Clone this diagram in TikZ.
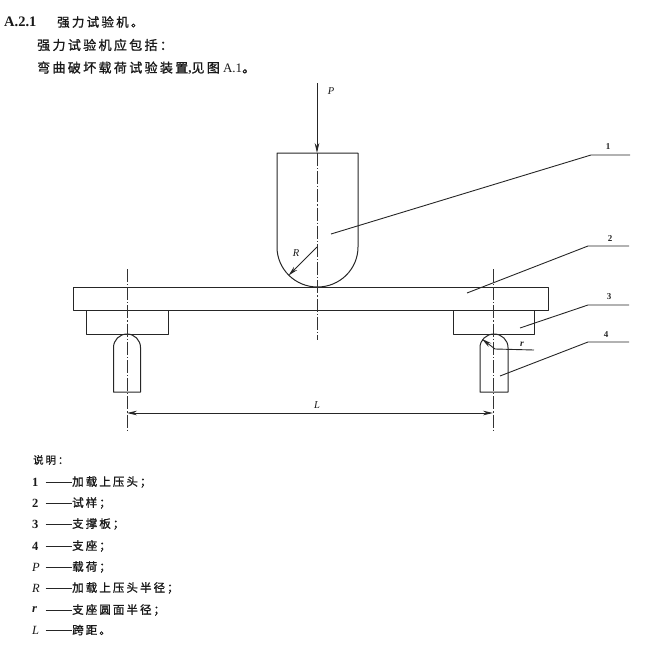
\documentclass[tikz,border=0pt]{standalone}
\usepackage{fontspec}
\usetikzlibrary{arrows.meta}
\setmainfont{Liberation Serif}
\newfontfamily\cjk[LetterSpace=18,FakeBold=1.2]{Noto Sans CJK SC}
\newcommand{\zh}[1]{{\cjk #1}}
\tikzset{
  x=1pt,y=-1pt,
  part/.style={draw=black!85,line width=1pt,line join=round},
  axisline/.style={draw=black!80,line width=0.9pt,dash pattern=on 13pt off 2pt on 1.2pt off 2pt},
  lead/.style={draw=black!85,line width=0.9pt},
  tip/.style={-{Stealth[length=10pt,width=4.6pt]}},
  para/.style={anchor=west,inner sep=0pt,font=\fontsize{13}{14}\selectfont,text=black!90},
  leg/.style={anchor=west,inner sep=0pt,font=\fontsize{11.5}{13}\selectfont,text=black!90},
  num/.style={inner sep=0pt,font=\fontsize{9}{11}\bfseries\selectfont,text=black!85},
  sym/.style={inner sep=0pt,font=\fontsize{10.5}{12}\itshape\selectfont,text=black!90}
}
\begin{document}
\begin{tikzpicture}
\useasboundingbox (0,0) rectangle (654,649);
% paragraph text
\node[para,font=\fontsize{14.5}{15}\selectfont] (h1) at (4,22) {\textbf{A.2.1}};
\node[para,font=\fontsize{12.5}{14}\selectfont] (h1b) at (57,22) {\zh{强力试验机。}};
\node[para] (h2) at (37,45) {\zh{强力试验机应包括：}};
\node[para] (h3) at (37,68) {\zh{弯曲破坏载荷试验装置}\textbf{,}\zh{见图} A.1\zh{。}};
% named points
\coordinate (ptop) at (317,83);
\coordinate (ihead) at (317,153);
\coordinate (ibot) at (317,340);
\coordinate (rc) at (317,247);
\coordinate (rt) at (288.5,275.5);
\coordinate (la) at (127,269);
\coordinate (lb) at (127,431);
\coordinate (ra) at (493,269);
\coordinate (rb) at (493,431);
\coordinate (lL) at (127,413);
\coordinate (rL) at (493,413);
\coordinate (sc) at (495,349);
\coordinate (st) at (482,339);
\coordinate (se) at (534,350);
% parts
\draw[part] (277,153) -- (358,153) -- (358,247) arc[start angle=0,end angle=180,radius=40.5,y radius=40] -- cycle;
\draw[part] (73,287) rectangle (548,310.5);
\draw[part] (86,310.5) rectangle (168,334);
\draw[part] (453,310.5) rectangle (534,334);
\draw[part] (113.5,392) -- (113.5,347.5) arc[start angle=180,end angle=0,radius=13.5,y radius=-13.5] -- (140.5,392) -- cycle;
\draw[part] (480,392) -- (480,347.5) arc[start angle=180,end angle=0,radius=14,y radius=-13.5] -- (508,392) -- cycle;
% centre lines
\draw[axisline] (ihead) -- (ibot);
\draw[axisline] (la) -- (lb);
\draw[axisline] (ra) -- (rb);
% dimensions
\draw[lead,tip] (ptop) -- (ihead);
\draw[lead,tip] (rc) -- (rt);
\draw[lead,tip] (sc) -- (st);
\draw[lead] (sc) -- (se);
\draw[lead,{Stealth[length=10pt,width=4.6pt]}-{Stealth[length=10pt,width=4.6pt]}] (lL) -- (rL);
\node[sym] (P) at (331,91) {P};
\node[sym] (R) at (296,253) {R};
\node[sym,font=\fontsize{9.5}{11}\itshape\bfseries\selectfont] (r) at (522,344) {r};
\node[sym] (L) at (317,405) {L};
% leaders
\coordinate (a1) at (331,234); \coordinate (b1) at (591,155); \coordinate (c1) at (630,155);
\coordinate (a2) at (467,293); \coordinate (b2) at (588,246); \coordinate (c2) at (629,246);
\coordinate (a3) at (520,328); \coordinate (b3) at (588,305); \coordinate (c3) at (629,305);
\coordinate (a4) at (500,376); \coordinate (b4) at (588,342); \coordinate (c4) at (629,342);
\draw[lead] (a1) -- (b1) -- (c1);
\draw[lead] (a2) -- (b2) -- (c2);
\draw[lead] (a3) -- (b3) -- (c3);
\draw[lead] (a4) -- (b4) -- (c4);
\node[num] (n1) at (608,147) {1};
\node[num] (n2) at (610,239) {2};
\node[num] (n3) at (609,297) {3};
\node[num] (n4) at (606,335) {4};
% legend
\node[leg,font=\fontsize{10.5}{13}\selectfont] (t0) at (33,460) {\zh{说明：}};
\foreach \nm/\yy/\lab/\txt in {
  a/482/\textbf{1}/加载上压头；,
  b/503/\textbf{2}/试样；,
  c/524/\textbf{3}/支撑板；,
  d/546/\textbf{4}/支座；,
  e/567/\textit{P}/载荷；,
  f/588/\textit{R}/加载上压头半径；,
  g/610/\textit{\textbf{r}}/支座圆面半径；,
  h/630/\textit{L}/跨距。}{
  \node[leg,font=\fontsize{12.5}{13}\selectfont] (k\nm) at (32,\yy) {\lab};
  \draw[lead,line width=0.8pt] (45.5,\yy) -- (72,\yy);
  \node[leg] (v\nm) at (72,\yy) {\zh{\txt}};
}
\end{tikzpicture}
\end{document}
